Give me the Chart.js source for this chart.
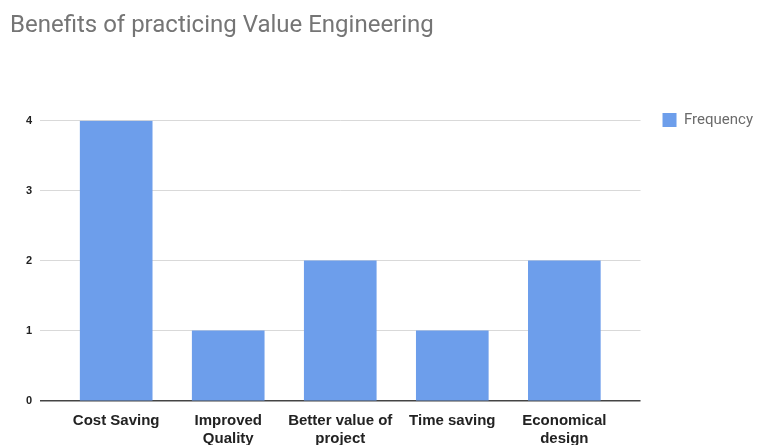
<!DOCTYPE html>
<html>
<head>
<meta charset="utf-8">
<script src="https://cdn.jsdelivr.net/npm/chart.js@4"></script>
<style>
  html, body { margin: 0; padding: 0; background: #ffffff; }
  #wrap { width: 757px; height: 445px; position: relative; }
</style>
</head>
<body>
<div id="wrap"><canvas id="chart"></canvas></div>
<script>
// Benefits reported for practicing Value Engineering
const categories = [
  'Cost Saving',
  ['Improved', 'Quality'],
  ['Better value of', 'project'],
  'Time saving',
  ['Economical', 'design']
];
const frequency = [4, 1, 2, 1, 2];
const yTicks = [0, 1, 2, 3, 4];

const points = frequency.map((v, i) => ({ x: i, y: v }));

new Chart(document.getElementById('chart'), {
  type: 'bar',
  data: {
    datasets: [{
      label: 'Frequency',
      data: points,
      backgroundColor: '#6d9eeb',
      borderWidth: 0,
      barThickness: 72
    }]
  },
  options: {
    responsive: true,
    maintainAspectRatio: false,
    animation: false,
    layout: { padding: { left: 10, right: -6, top: 0, bottom: 0 } },
    plugins: {
      title: {
        display: true,
        text: 'Benefits of practicing Value Engineering',
        align: 'start',
        color: '#757575',
        font: { family: 'Roboto', size: 24, weight: 'normal' },
        padding: { top: 12, bottom: 80 }
      },
      legend: {
        position: 'right',
        align: 'start',
        fullSize: true,
        // blank legend title used as a spacer so the key sits level with the top gridline
        title: {
          display: true,
          text: ' ',
          font: { family: 'Roboto', size: 10, lineHeight: 1.2 },
          padding: { top: 78.5, bottom: 0 }
        },
        labels: {
          boxWidth: 14,
          boxHeight: 14,
          color: '#6b6b6b',
          font: { family: 'Roboto', size: 15 },
          padding: 22
        }
      },
      tooltip: { enabled: false }
    },
    scales: {
      x: {
        type: 'linear',
        offset: false,
        min: -0.68,
        max: 4.68,
        grid: { display: false },
        border: { display: false },
        afterBuildTicks: (axis) => {
          axis.ticks = categories.map((_, i) => ({ value: i }));
        },
        afterFit: (axis) => { axis.height = 44; },
        ticks: {
          autoSkip: false,
          maxRotation: 0,
          padding: 3,
          color: '#222222',
          font: { family: 'Liberation Sans', size: 15, weight: 'bold', lineHeight: 1.2 },
          callback: (v) => categories[v]
        }
      },
      y: {
        min: 0,
        max: 4,
        afterBuildTicks: (axis) => {
          axis.ticks = yTicks.map(v => ({ value: v }));
        },
        afterFit: (axis) => { axis.width = 30; },
        border: { display: false },
        grid: {
          drawTicks: false,
          color: (ctx) => ctx.tick && ctx.tick.value === 0 ? '#444444' : '#d9d9d9',
          lineWidth: (ctx) => ctx.tick && ctx.tick.value === 0 ? 1.5 : 1
        },
        ticks: {
          padding: 8,
          color: '#222222',
          font: { family: 'Liberation Sans', size: 11, weight: 'bold' }
        }
      }
    }
  }
});
</script>
</body>
</html>
